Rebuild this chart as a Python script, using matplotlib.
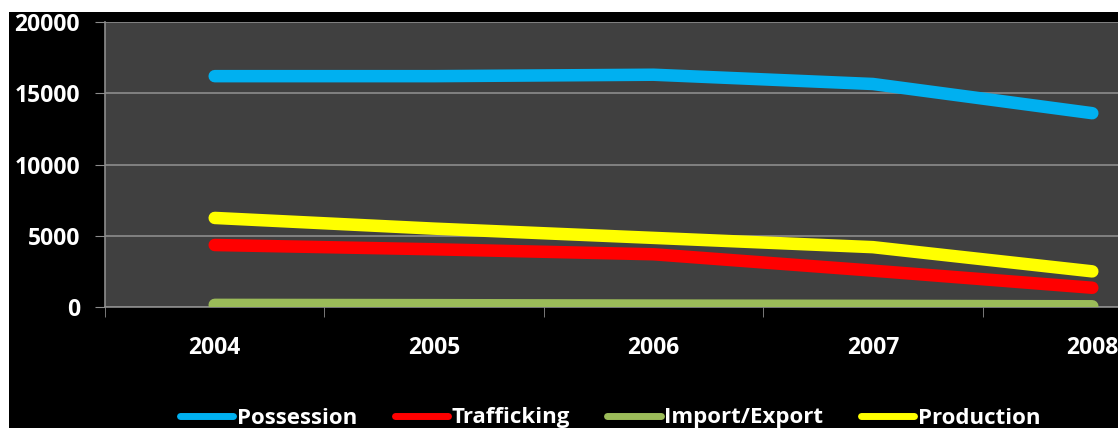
import matplotlib; matplotlib.use('Agg')
import matplotlib.pyplot as plt
from matplotlib.patches import Rectangle

years = ['2004', '2005', '2006', '2007', '2008']
possession = [16200, 16200, 16300, 15650, 13600]
trafficking = [4350, 4050, 3700, 2550, 1350]
import_export = [150, 130, 100, 80, 50]
production = [6250, 5500, 4850, 4200, 2500]
series = [('Possession', possession, '#00b0f0'),
          ('Trafficking', trafficking, '#ff0000'),
          ('Import/Export', import_export, '#9bbb59'),
          ('Production', production, '#ffff00')]

plt.rcParams['font.family'] = ['Open Sans', 'DejaVu Sans']
plt.rcParams['font.weight'] = 'bold'

W, H = 1118, 428
fig = plt.figure(figsize=(W/100, H/100), dpi=100, facecolor='white')
fig.patches.append(Rectangle((9/W, 0), 1, 1 - 12/H, transform=fig.transFigure,
                             facecolor='black', edgecolor='none', zorder=-5))

# plot area runs past the right edge of the picture (cropped original)
ax = fig.add_axes([105/W, 1 - 307/H, (1202 - 105)/W, (307 - 22)/H])
ax.set_facecolor('#404040')
x = list(range(len(years)))
for name, vals, col in series:
    ax.plot(x, vals, color=col, lw=9, solid_capstyle='round', solid_joinstyle='round',
            label=name, zorder=3)

ax.set_xlim(-0.5, len(years) - 0.5)
ax.set_ylim(0, 20000)
ax.set_yticks([0, 5000, 10000, 15000, 20000])
ax.grid(axis='y', color='#8c8c8c', lw=1.2, zorder=1)
ax.set_xticks(x)
ax.set_xticklabels(years)
ax.set_xticks([i - 0.5 for i in range(len(years) + 1)], minor=True)
ax.tick_params(axis='x', which='major', length=0, pad=21, colors='white', labelsize=16.5)
ax.tick_params(axis='x', which='minor', length=7, color='#8c8c8c', direction='out')
ax.tick_params(axis='y', length=7, color='#8c8c8c', colors='white', labelsize=16.5, pad=11)
for s in ['top', 'right']:
    ax.spines[s].set_visible(False)
for s in ['left', 'bottom']:
    ax.spines[s].set_color('#8c8c8c')
    ax.spines[s].set_linewidth(1.2)

leg = fig.legend(loc='center', bbox_to_anchor=(610/W, 1 - 418/H), ncol=4, frameon=False,
                 fontsize=16, handlelength=2.4, handletextpad=0.15, columnspacing=1.7,
                 labelcolor='white')
for h in leg.get_lines():
    h.set_linewidth(5)

fig.savefig('out.png', dpi=100, facecolor=fig.get_facecolor())
